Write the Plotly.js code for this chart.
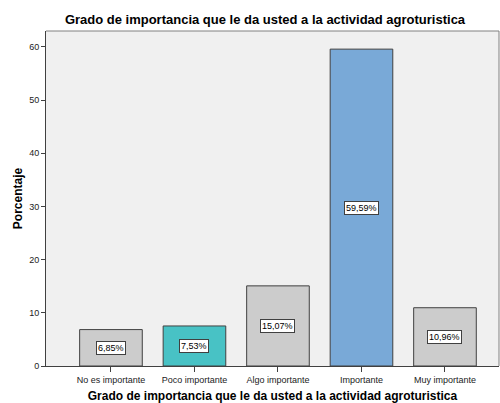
<!DOCTYPE html>
<html>
<head>
<meta charset="utf-8">
<script src="https://cdn.plot.ly/plotly-3.0.1.min.js"></script>
<style>html,body{margin:0;padding:0;background:#fff;}#chart{width:500px;height:403px;}</style>
</head>
<body>
<div id="chart"></div>
<script>
const categories = ["No es importante", "Poco importante", "Algo importante", "Importante", "Muy importante"];
const percentages = [6.85, 7.53, 15.07, 59.59, 10.96];
const valueLabels = ["6,85%", "7,53%", "15,07%", "59,59%", "10,96%"];
const barColors = ["#cccccc", "#48c2c5", "#cccccc", "#79a9d7", "#cccccc"];
const tickValues = [0, 10, 20, 30, 40, 50, 60];

const trace = {
  type: "bar",
  x: categories,
  y: percentages,
  width: 0.75,
  marker: {color: barColors, line: {color: "#404040", width: 1}},
  hoverinfo: "none"
};

const annotations = categories.map((c, i) => ({
  x: c, y: percentages[i] / 2, xref: "x", yref: "y",
  text: valueLabels[i], showarrow: false,
  font: {family: "Liberation Sans, Arial, sans-serif", size: 9, color: "#000"},
  bgcolor: "#ffffff", bordercolor: "#404040", borderwidth: 1, borderpad: 1
}));

const layout = {
  width: 500, height: 403,
  margin: {l: 46, r: 1, t: 31, b: 37},
  paper_bgcolor: "#ffffff",
  plot_bgcolor: "#f0f0f0",
  showlegend: false,
  title: {
    text: "<b>Grado de importancia que le da usted a la actividad agroturistica</b>",
    font: {family: "Liberation Sans, Arial, sans-serif", size: 13, color: "#000"},
    x: 0.53, xanchor: "center", y: 0.951, yanchor: "middle"
  },
  xaxis: {
    type: "category",
    range: [-0.778, 4.647],
    showline: true, linecolor: "#404040", linewidth: 1, mirror: false,
    ticks: "outside", ticklen: 5, tickcolor: "#404040",
    tickfont: {family: "Liberation Sans, Arial, sans-serif", size: 9, color: "#222"},
    showgrid: false, zeroline: false,
    title: {text: "<b>Grado de importancia que le da usted a la actividad agroturistica</b>",
      font: {family: "Liberation Sans, Arial, sans-serif", size: 12, color: "#000"}, standoff: 7}
  },
  yaxis: {
    range: [0, 63],
    tickvals: tickValues,
    showline: true, linecolor: "#404040", linewidth: 1, mirror: false,
    ticks: "outside", ticklen: 4, tickcolor: "#404040",
    tickfont: {family: "Liberation Sans, Arial, sans-serif", size: 9, color: "#222"},
    showgrid: false, zeroline: false,
    title: {text: "<b>Porcentaje</b>",
      font: {family: "Liberation Sans, Arial, sans-serif", size: 12, color: "#000"}, standoff: 3}
  },
  annotations: annotations,
  shapes: [
    {type: "line", xref: "paper", yref: "paper", x0: 0, x1: 1, y0: 1, y1: 1, line: {color: "#808080", width: 1}},
    {type: "line", xref: "paper", yref: "paper", x0: 1, x1: 1, y0: 0, y1: 1, line: {color: "#808080", width: 1}}
  ]
};

Plotly.newPlot("chart", [trace], layout, {displayModeBar: false, staticPlot: true});
</script>
</body>
</html>
